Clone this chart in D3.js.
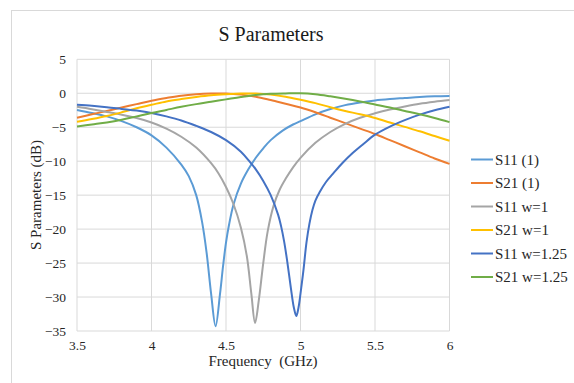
<!DOCTYPE html>
<html>
<head>
<meta charset="utf-8">
<script src="https://cdn.jsdelivr.net/npm/d3@7"></script>
<style>
  html, body { margin: 0; padding: 0; background: #fff; }
  svg { display: block; }
  text { font-family: "Liberation Serif", "Times New Roman", serif; fill: #262626; }
</style>
</head>
<body>
<svg id="chart" width="574" height="383"></svg>
<script>
// ---- Data ----
const chartTitle = "S Parameters";
const xTicks = [3.5, 4, 4.5, 5, 5.5, 6];
const yTicks = [5, 0, -5, -10, -15, -20, -25, -30, -35];
const seriesNames = ["S11 (1)", "S21 (1)", "S11 w=1", "S21 w=1", "S11 w=1.25", "S21 w=1.25"];
const seriesColors = ["#5B9BD5", "#ED7D31", "#A5A5A5", "#FFC000", "#4472C4", "#70AD47"];

// each series: [frequency GHz, dB]
const s11_1 = [[3.5,-2.45],[3.6,-2.9],[3.7,-3.4],[3.8,-4.1],[3.9,-5.0],[4.0,-6.2],[4.1,-8.0],[4.2,-10.5],[4.25,-12.2],[4.3,-15.0],[4.34,-19.0],[4.37,-23.5],[4.4,-29.5],[4.43,-34.3],[4.46,-29.5],[4.48,-25.5],[4.5,-22.0],[4.52,-19.4],[4.55,-16.4],[4.6,-13.3],[4.65,-11.2],[4.7,-9.5],[4.75,-8.1],[4.8,-6.9],[4.88,-5.5],[4.95,-4.6],[5.0,-4.1],[5.1,-3.1],[5.19,-2.4],[5.3,-1.75],[5.4,-1.35],[5.5,-1.05],[5.6,-0.85],[5.7,-0.7],[5.8,-0.55],[5.9,-0.45],[6.0,-0.4]];
const s21_1 = [[3.5,-3.6],[3.6,-3.1],[3.7,-2.6],[3.8,-2.1],[3.9,-1.6],[4.0,-1.1],[4.1,-0.7],[4.2,-0.35],[4.3,-0.15],[4.4,-0.05],[4.5,-0.05],[4.6,-0.2],[4.7,-0.5],[4.8,-1.0],[4.9,-1.55],[5.0,-2.1],[5.1,-2.8],[5.2,-3.6],[5.3,-4.4],[5.4,-5.2],[5.5,-6.0],[5.6,-6.9],[5.7,-7.8],[5.8,-8.7],[5.9,-9.6],[6.0,-10.4]];
const s11_w1 = [[3.5,-2.0],[3.6,-2.35],[3.7,-2.75],[3.8,-3.15],[3.9,-3.65],[4.0,-4.3],[4.1,-5.2],[4.2,-6.4],[4.3,-8.0],[4.4,-10.3],[4.45,-11.8],[4.5,-13.8],[4.55,-16.3],[4.6,-19.8],[4.64,-24.0],[4.67,-29.5],[4.695,-33.8],[4.72,-30.5],[4.75,-25.0],[4.78,-20.3],[4.82,-16.5],[4.86,-14.2],[4.9,-12.6],[4.95,-10.9],[5.0,-9.5],[5.1,-7.3],[5.2,-5.7],[5.3,-4.5],[5.4,-3.6],[5.5,-2.95],[5.6,-2.4],[5.7,-1.95],[5.8,-1.55],[5.9,-1.25],[6.0,-1.0]];
const s21_w1 = [[3.5,-4.2],[3.6,-3.8],[3.7,-3.35],[3.8,-2.8],[3.9,-2.2],[4.0,-1.7],[4.1,-1.2],[4.2,-0.85],[4.3,-0.55],[4.4,-0.3],[4.5,-0.15],[4.6,-0.05],[4.7,-0.05],[4.8,-0.2],[4.9,-0.5],[5.0,-0.95],[5.1,-1.45],[5.2,-2.05],[5.3,-2.6],[5.4,-3.1],[5.5,-3.65],[5.6,-4.3],[5.7,-4.95],[5.8,-5.6],[5.9,-6.3],[6.0,-7.0]];
const s11_w125 = [[3.5,-1.7],[3.6,-1.85],[3.7,-2.05],[3.8,-2.3],[3.9,-2.55],[4.0,-2.9],[4.1,-3.4],[4.2,-4.0],[4.3,-4.8],[4.4,-5.7],[4.5,-6.9],[4.6,-8.6],[4.66,-10.1],[4.7,-11.2],[4.75,-12.9],[4.8,-15.0],[4.85,-17.9],[4.87,-19.6],[4.89,-21.8],[4.91,-24.6],[4.935,-28.6],[4.955,-31.5],[4.972,-32.8],[4.987,-31.5],[5.0,-29.5],[5.02,-26.0],[5.04,-22.0],[5.06,-19.2],[5.08,-17.2],[5.1,-15.8],[5.13,-14.5],[5.17,-13.1],[5.22,-11.8],[5.28,-10.3],[5.35,-8.8],[5.42,-7.5],[5.5,-6.1],[5.6,-4.9],[5.7,-3.95],[5.8,-3.15],[5.9,-2.5],[6.0,-2.0]];
const s21_w125 = [[3.5,-4.9],[3.6,-4.6],[3.7,-4.3],[3.8,-3.9],[3.9,-3.4],[4.0,-2.9],[4.1,-2.45],[4.2,-2.0],[4.3,-1.6],[4.4,-1.25],[4.5,-0.9],[4.6,-0.55],[4.7,-0.25],[4.8,-0.08],[4.9,-0.02],[5.0,0.0],[5.1,-0.15],[5.2,-0.45],[5.3,-0.8],[5.4,-1.2],[5.5,-1.65],[5.6,-2.1],[5.7,-2.6],[5.8,-3.1],[5.9,-3.65],[6.0,-4.25]];
const seriesData = [s11_1, s21_1, s11_w1, s21_w1, s11_w125, s21_w125];

// ---- Layout ----
const svg = d3.select("#chart");
const plot = { left: 77, right: 449.5, top: 59.3, bottom: 331 };

const x = d3.scaleLinear().domain([3.5, 6]).range([plot.left, plot.right]);
const y = d3.scaleLinear().domain([-35, 5]).range([plot.bottom, plot.top]);

// outer chart border
svg.append("rect").attr("x", 11.5).attr("y", 10.5).attr("width", 700).attr("height", 500)
  .attr("fill", "#fff").attr("stroke", "#d9d9d9").attr("stroke-width", 1);

// title
svg.append("text").attr("x", 271).attr("y", 41).attr("text-anchor", "middle")
  .style("font-size", "20px").style("fill", "#1a1a1a").text(chartTitle);

// gridlines
const grid = svg.append("g");
grid.selectAll("line.h").data(yTicks).join("line")
  .attr("x1", plot.left).attr("x2", plot.right)
  .attr("y1", d => y(d)).attr("y2", d => y(d))
  .attr("stroke", "#d9d9d9").attr("stroke-width", 1);
grid.selectAll("line.v").data(xTicks).join("line")
  .attr("y1", plot.top).attr("y2", plot.bottom)
  .attr("x1", d => x(d)).attr("x2", d => x(d))
  .attr("stroke", "#d9d9d9").attr("stroke-width", 1);

// axes (labels only, Excel style)
const yAxis = d3.axisLeft(y).tickValues(yTicks).tickSize(0).tickPadding(11).tickFormat(d3.format("d"));
const gy = svg.append("g").attr("transform", `translate(${plot.left},0)`).call(yAxis);
gy.select(".domain").remove();
gy.selectAll("text").style("font-size", "13.5px").style("font-family", "'Liberation Serif', serif").attr("fill", "#333");

const xAxis = d3.axisBottom(x).tickValues(xTicks).tickSize(0).tickPadding(9).tickFormat(d => String(d));
const gx = svg.append("g").attr("transform", `translate(0,${plot.bottom})`).call(xAxis);
gx.select(".domain").remove();
gx.selectAll("text").style("font-size", "13.5px").style("font-family", "'Liberation Serif', serif").attr("fill", "#333");

// axis titles
svg.append("text").attr("x", 263).attr("y", 366).attr("text-anchor", "middle")
  .style("font-size", "15px").style("white-space", "pre").attr("xml:space", "preserve")
  .text("Frequency  (GHz)");
svg.append("text").attr("transform", "translate(41,195) rotate(-90)").attr("text-anchor", "middle")
  .style("font-size", "15px").text("S Parameters (dB)");

// series lines
const line = d3.line().x(d => x(d[0])).y(d => y(d[1])).curve(d3.curveCatmullRom.alpha(0.5));
svg.append("g").selectAll("path").data(seriesData).join("path")
  .attr("d", line)
  .attr("fill", "none")
  .attr("stroke", (d, i) => seriesColors[i])
  .attr("stroke-width", 2)
  .attr("stroke-linejoin", "round");

// legend
const legend = svg.append("g").attr("transform", "translate(471,159.5)");
const items = legend.selectAll("g").data(seriesNames).join("g")
  .attr("transform", (d, i) => `translate(0,${i * 23.5})`);
items.append("line").attr("x1", 0).attr("x2", 22).attr("y1", 0).attr("y2", 0)
  .attr("stroke", (d, i) => seriesColors[i]).attr("stroke-width", 2);
items.append("text").attr("x", 24).attr("y", 0).attr("dy", "0.35em")
  .style("font-size", "15px").text(d => d);
</script>
</body>
</html>
